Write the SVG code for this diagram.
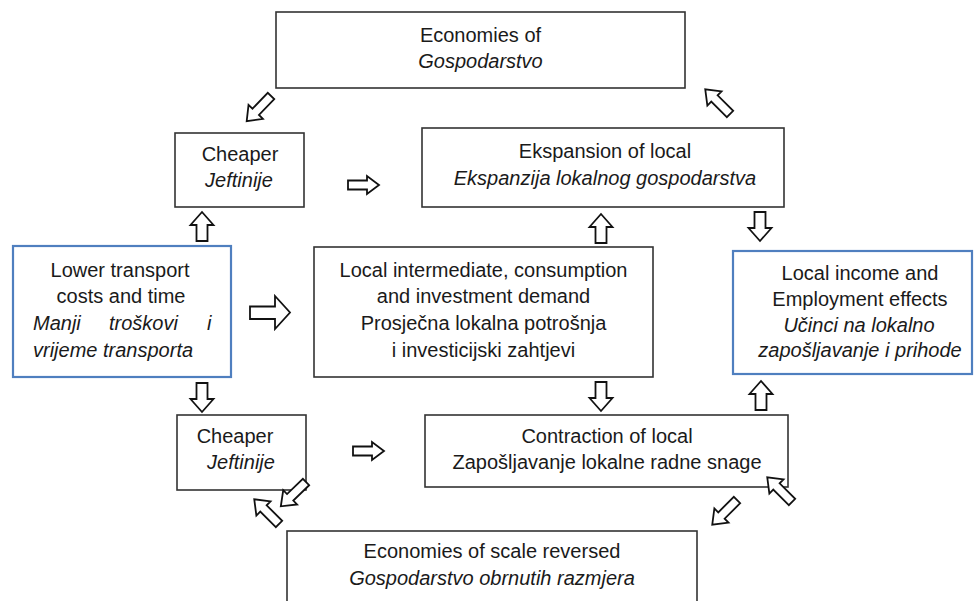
<svg xmlns="http://www.w3.org/2000/svg" xmlns:xlink="http://www.w3.org/1999/xlink" width="974" height="601" viewBox="0 0 974 601">
<style>
.box{fill:#fff;stroke:#333;stroke-width:1.6}
.blue{fill:#fff;stroke:#4f7fbf;stroke-width:2.2}
text{font-family:"Liberation Sans",Arial,sans-serif;font-size:20px;fill:#1a1a1a}
.c{text-anchor:middle}
.i{font-style:italic}
.arr{fill:#fff;stroke:#111;stroke-width:1.8;stroke-linejoin:miter}
</style>
<defs>
<path id="vdown" d="M-5.5,0 L5.5,0 L5.5,16 L11.5,16 L0,29 L-11.5,16 L-5.5,16 Z"/>
<path id="hsmall" d="M0,-4.5 L19,-4.5 L19,-9 L31,0 L19,9 L19,4.5 L0,4.5 Z"/>
<path id="diag" d="M0,-4.5 L22,-4.5 L22,-10 L35,0 L22,10 L22,4.5 L0,4.5 Z"/>
</defs>
<rect width="974" height="601" fill="#fff"/>

<g id="n-top">
<rect class="box" x="276" y="12" width="409" height="76"/>
<text class="c" x="480.5" y="41.5">Economies of</text>
<text class="c i" x="480.5" y="68">Gospodarstvo</text>
</g>
<g id="n-cheaper-top">
<rect class="box" x="175" y="133" width="129" height="74"/>
<text class="c" x="240" y="161">Cheaper</text>
<text class="c i" x="239" y="187">Jeftinije</text>
</g>
<g id="n-ekspansion">
<rect class="box" x="422" y="128" width="362" height="79"/>
<text class="c" x="605" y="158">Ekspansion of local</text>
<text class="c i" x="605" y="184.5">Ekspanzija lokalnog gospodarstva</text>
</g>
<g id="n-lower">
<rect class="blue" x="13" y="246" width="218" height="131"/>
<text class="c" x="120" y="276.7">Lower transport</text>
<text class="c" x="121" y="303.3">costs and time</text>
<text class="i" y="330"><tspan x="33">Manji</tspan><tspan x="109">troškovi</tspan><tspan x="207">i</tspan></text>
<text class="i" x="33" y="356.7">vrijeme transporta</text>
</g>
<g id="n-middle">
<rect class="box" x="314" y="247" width="339" height="130"/>
<text class="c" x="483.5" y="276.7">Local intermediate, consumption</text>
<text class="c" x="483.5" y="303.3">and investment demand</text>
<text class="c" x="483.5" y="330">Prosječna lokalna potrošnja</text>
<text class="c" x="483.5" y="356.7">i investicijski zahtjevi</text>
</g>
<g id="n-income">
<rect class="blue" x="733" y="251" width="239" height="123"/>
<text class="c" x="860" y="280">Local income and</text>
<text class="c" x="860" y="306">Employment effects</text>
<text class="c i" x="859" y="331.5">Učinci na lokalno</text>
<text class="c i" x="860" y="357">zapošljavanje i prihode</text>
</g>
<g id="n-cheaper-bot">
<rect class="box" x="177" y="415" width="129" height="75"/>
<text class="c" x="235" y="443.3">Cheaper</text>
<text class="c i" x="241" y="469.3">Jeftinije</text>
</g>
<g id="n-contraction">
<rect class="box" x="425" y="415" width="363" height="72"/>
<text class="c" x="607" y="443.3">Contraction of local</text>
<text class="c" x="607" y="469.3">Zapošljavanje lokalne radne snage</text>
</g>
<g id="n-bottom">
<rect class="box" x="287" y="531" width="410" height="80"/>
<text class="c" x="492" y="558.3">Economies of scale reversed</text>
<text class="c i" x="492" y="585">Gospodarstvo obrnutih razmjera</text>
</g>

<g id="connectors">
<use class="arr" xlink:href="#vdown" transform="translate(202,241) rotate(180)"/>
<use class="arr" xlink:href="#vdown" transform="translate(202,383)"/>
<use class="arr" xlink:href="#vdown" transform="translate(601,243) rotate(180)"/>
<use class="arr" xlink:href="#vdown" transform="translate(601,382)"/>
<use class="arr" xlink:href="#vdown" transform="translate(760,212)"/>
<use class="arr" xlink:href="#vdown" transform="translate(761,410) rotate(180)"/>
<use class="arr" xlink:href="#hsmall" transform="translate(348,185)"/>
<use class="arr" xlink:href="#hsmall" transform="translate(353,451)"/>
<path class="arr" d="M250,306.5 L275,306.5 L275,296 L290,312.5 L275,329 L275,319 L250,319 Z"/>
<use class="arr" xlink:href="#diag" transform="translate(271,96) rotate(134)"/>
<use class="arr" xlink:href="#diag" transform="translate(730,114) rotate(-135)"/>
<use class="arr" xlink:href="#diag" transform="translate(306,482) rotate(136)"/>
<use class="arr" xlink:href="#diag" transform="translate(279,524) rotate(-135)"/>
<use class="arr" xlink:href="#diag" transform="translate(792,502) rotate(-135)"/>
<use class="arr" xlink:href="#diag" transform="translate(737,500) rotate(135)"/>
</g>
</svg>
